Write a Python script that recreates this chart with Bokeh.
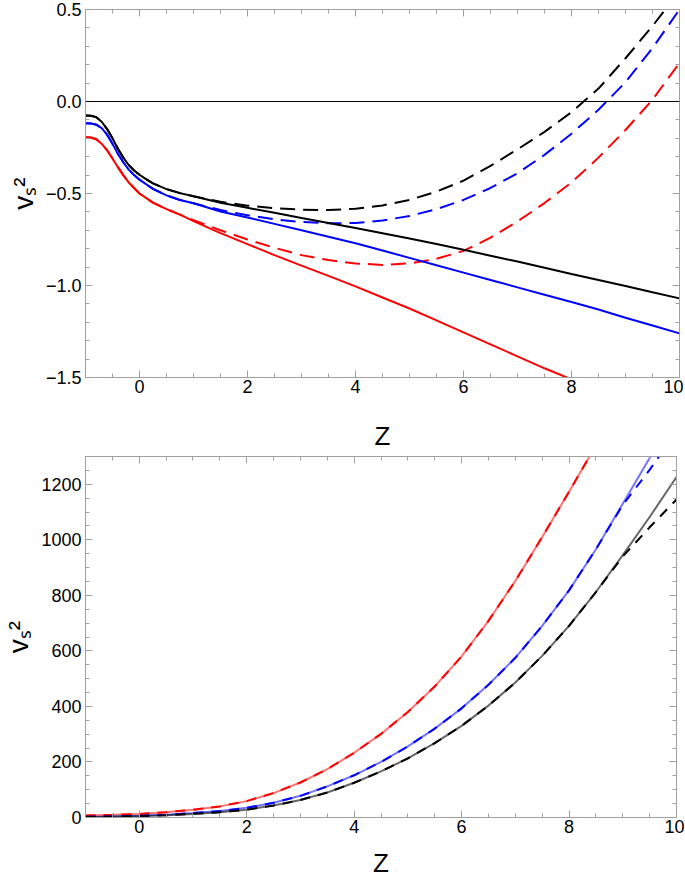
from bokeh.plotting import figure
from bokeh.models import (Span, LinearAxis, SingleIntervalTicker, CustomJSTickFormatter,
                          Range1d)
from bokeh.layouts import column
from bokeh.embed import file_html
from bokeh.resources import INLINE

# ---------------- data: top panel ----------------
z_top = [-1, -0.9, -0.8, -0.7, -0.6, -0.5, -0.4, -0.3, -0.2, -0.1, 0, 0.1, 0.25, 0.5, 0.75,
         1, 1.5, 2, 2.5, 3, 3.5, 4, 4.5, 5, 5.5, 6, 6.5, 7, 7.5, 8, 8.5, 9, 9.5, 10]
black_solid = [-0.076, -0.077, -0.085, -0.11, -0.15, -0.20, -0.257, -0.305, -0.345, -0.375,
               -0.398, -0.418, -0.445, -0.476, -0.498, -0.515, -0.55, -0.578, -0.605,
               -0.633, -0.66, -0.688, -0.716, -0.745, -0.775, -0.806, -0.838, -0.87,
               -0.903, -0.937, -0.97, -1.003, -1.037, -1.07]
blue_solid = [-0.118, -0.119, -0.126, -0.145, -0.18, -0.23, -0.284, -0.33, -0.37, -0.40,
              -0.425, -0.445, -0.475, -0.51, -0.535, -0.553, -0.598, -0.63, -0.665, -0.70,
              -0.735, -0.77, -0.81, -0.85, -0.89, -0.93, -0.97, -1.01, -1.05, -1.09,
              -1.13, -1.175, -1.217, -1.26]
red_solid = [-0.194, -0.196, -0.205, -0.23, -0.265, -0.31, -0.357, -0.40, -0.44, -0.47,
             -0.50, -0.52, -0.55, -0.585, -0.615, -0.65, -0.715, -0.775, -0.835, -0.892,
             -0.948, -1.005, -1.065, -1.125, -1.19, -1.255, -1.32, -1.385, -1.45, -1.51,
             -1.575, -1.64, -1.71, -1.78]
black_dashed = [-0.076, -0.077, -0.085, -0.11, -0.15, -0.20, -0.257, -0.305, -0.345, -0.375,
                -0.398, -0.418, -0.445, -0.476, -0.498, -0.515, -0.545, -0.566, -0.58,
                -0.588, -0.59, -0.583, -0.565, -0.535, -0.49, -0.43, -0.35, -0.26, -0.165,
                -0.058, 0.07, 0.235, 0.41, 0.6]
blue_dashed = [-0.118, -0.119, -0.126, -0.145, -0.18, -0.23, -0.284, -0.33, -0.37, -0.40,
               -0.425, -0.445, -0.475, -0.51, -0.535, -0.553, -0.59, -0.618, -0.64, -0.655,
               -0.662, -0.66, -0.647, -0.622, -0.585, -0.535, -0.47, -0.39, -0.29, -0.175,
               -0.045, 0.105, 0.29, 0.5]
red_dashed = [-0.194, -0.196, -0.205, -0.23, -0.265, -0.31, -0.357, -0.40, -0.44, -0.47,
              -0.50, -0.52, -0.55, -0.585, -0.615, -0.645, -0.70, -0.75, -0.795, -0.835,
              -0.862, -0.88, -0.888, -0.88, -0.855, -0.812, -0.74, -0.652, -0.552, -0.44,
              -0.305, -0.155, 0.01, 0.21]

# ---------------- data: bottom panel ----------------
z_bot = [-1, -0.5, 0, 0.5, 1, 1.5, 2, 2.5, 3, 3.5, 4, 4.5, 5, 5.5, 6, 6.5, 7, 7.5, 8,
         8.5, 9, 9.5, 10]
red_solid_b = [7, 9.5, 13, 19, 28, 40, 59, 88, 126, 174, 233, 301, 380, 472, 580, 708,
               852, 1010, 1173, 1340, 1510, 1685, 1865]
red_dashed_b = [7, 9.5, 13, 19, 28, 40, 59, 88, 126, 174, 233, 301, 380, 472, 580, 708,
                852, 1010, 1173, 1340, 1510, 1685, 1865]
blue_solid_b = [3, 4, 6, 10, 16, 23, 35, 53, 78, 112, 152, 200, 256, 320, 393, 478, 575,
                690, 818, 966, 1130, 1295, 1475]
blue_dashed_b = [3, 4, 6, 10, 16, 23, 35, 53, 78, 112, 152, 200, 256, 320, 393, 478, 575,
                 690, 818, 966, 1126, 1252, 1390]
black_solid_b = [2, 3, 5, 8, 13, 19, 28, 43, 63, 90, 125, 166, 213, 268, 330, 403, 486,
                 582, 690, 812, 945, 1082, 1226]
black_dashed_b = [2, 3, 5, 8, 13, 19, 28, 43, 63, 90, 125, 166, 213, 268, 330, 403, 486,
                  582, 690, 812, 940, 1045, 1145]

FRAME = "#a0a0a0"
FONT = "Liberation Sans"
YLABEL = "v\u209b\u00b2"


def style_axis(ax, labels=True):
    ax.axis_line_color = FRAME
    ax.major_tick_line_color = FRAME
    ax.minor_tick_line_color = FRAME
    ax.major_tick_in = 7
    ax.major_tick_out = 0
    ax.minor_tick_in = 4
    ax.minor_tick_out = 0
    ax.major_label_text_font = FONT
    ax.major_label_text_color = "black"
    ax.axis_label_text_font = FONT
    ax.axis_label_text_font_style = "normal"
    ax.axis_label_text_color = "black"
    if labels:
        ax.major_label_text_font_size = "18px"
    else:
        ax.major_label_text_font_size = "0px"
        ax.formatter = CustomJSTickFormatter(code="return '';")
        ax.major_label_standoff = 0


def make_fig(yr, yint, yminor, fmt_code, frame_w, frame_h, left_b, top_b, bot_b,
             xlab_standoff):
    p = figure(frame_width=frame_w, frame_height=frame_h, x_range=Range1d(-1, 10),
               y_range=yr, output_backend="svg", toolbar_location=None,
               min_border_left=left_b, min_border_right=8, min_border_top=top_b,
               min_border_bottom=bot_b, background_fill_color="white",
               border_fill_color="white")
    p.xgrid.visible = False
    p.ygrid.visible = False
    p.outline_line_color = FRAME
    p.xaxis.ticker = SingleIntervalTicker(interval=2, num_minor_ticks=4)
    p.yaxis.ticker = SingleIntervalTicker(interval=yint, num_minor_ticks=yminor)
    p.xaxis.axis_label = "Z"
    p.yaxis.axis_label = YLABEL
    for ax in p.xaxis + p.yaxis:
        style_axis(ax)
    p.xaxis.axis_label_text_font_size = "26px"
    p.xaxis.major_label_standoff = 2
    p.xaxis.axis_label_standoff = xlab_standoff
    p.yaxis.axis_label_text_font_size = "28px"
    p.yaxis.major_label_standoff = 4
    p.yaxis.axis_label_standoff = 4
    p.yaxis.formatter = CustomJSTickFormatter(code=fmt_code)
    top_ax = LinearAxis(ticker=SingleIntervalTicker(interval=2, num_minor_ticks=4))
    right_ax = LinearAxis(ticker=SingleIntervalTicker(interval=yint, num_minor_ticks=yminor))
    style_axis(top_ax, labels=False)
    style_axis(right_ax, labels=False)
    p.add_layout(top_ax, "above")
    p.add_layout(right_ax, "right")
    return p


DASH_TOP = "15 8"
DASH_BOT = "10 8"

# ---------------- top panel ----------------
p1 = make_fig(Range1d(-1.5, 0.5), 0.5, 5,
              "return tick.toFixed(1).replace('-', '\\u2212');",
              594, 368, 81, 9, 73, 25)
p1.add_layout(Span(location=0, dimension="width", line_color="black", line_width=1))
p1.line(z_top, black_dashed, line_color="black", line_width=2, line_dash=DASH_TOP)
p1.line(z_top, blue_dashed, line_color="blue", line_width=2, line_dash=DASH_TOP)
p1.line(z_top, red_dashed, line_color="red", line_width=2, line_dash=DASH_TOP)
p1.line(z_top, black_solid, line_color="black", line_width=2)
p1.line(z_top, blue_solid, line_color="blue", line_width=2)
p1.line(z_top, red_solid, line_color="red", line_width=2)

# ---------------- bottom panel ----------------
p2 = make_fig(Range1d(0, 1300), 200, 4, "return tick.toFixed(0);",
              591, 361, 84, 3, 60, 12)
p2.line(z_bot, red_solid_b, line_color="red", line_alpha=0.55, line_width=2)
p2.line(z_bot, blue_solid_b, line_color="blue", line_alpha=0.55, line_width=2)
p2.line(z_bot, black_solid_b, line_color="black", line_alpha=0.6, line_width=2)
p2.line(z_bot, red_dashed_b, line_color="red", line_width=2, line_dash=DASH_BOT)
p2.line(z_bot, blue_dashed_b, line_color="blue", line_width=2, line_dash=DASH_BOT)
p2.line(z_bot, black_dashed_b, line_color="black", line_width=2, line_dash=DASH_BOT)

layout = column(p1, p2, spacing=0)
open("out.html", "w").write(file_html(layout, INLINE))
